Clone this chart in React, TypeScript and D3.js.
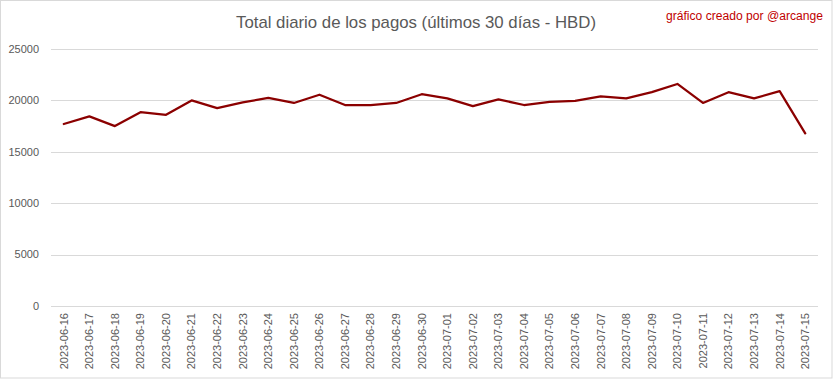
import React from "react";
import * as d3 from "d3";

const dates = [
  "2023-06-16","2023-06-17","2023-06-18","2023-06-19","2023-06-20","2023-06-21","2023-06-22","2023-06-23","2023-06-24","2023-06-25",
  "2023-06-26","2023-06-27","2023-06-28","2023-06-29","2023-06-30","2023-07-01","2023-07-02","2023-07-03","2023-07-04","2023-07-05",
  "2023-07-06","2023-07-07","2023-07-08","2023-07-09","2023-07-10","2023-07-11","2023-07-12","2023-07-13","2023-07-14","2023-07-15",
];
const values = [
  17700, 18450, 17500, 18850, 18600, 20000, 19250, 19800, 20250, 19750,
  20550, 19550, 19550, 19750, 20600, 20200, 19450, 20100, 19550, 19850,
  19950, 20400, 20200, 20800, 21600, 19750, 20800, 20200, 20900, 16800,
];
const yTicks = [0, 5000, 10000, 15000, 20000, 25000];
const title = "Total diario de los pagos (últimos 30 días - HBD)";
const credit = "gráfico creado por @arcange";

const W = 833, H = 379;
const plot = { left: 51, right: 818, top: 49, bottom: 306 };
const font = "'Liberation Sans', Arial, sans-serif";

export default function App() {
  const x = d3.scaleBand<string>().domain(dates).range([plot.left, plot.right]);
  const y = d3.scaleLinear().domain([0, 25000]).range([plot.bottom, plot.top]);
  const line = d3.line<number>()
    .x((_, i) => (x(dates[i]) as number) + x.bandwidth() / 2)
    .y((v) => y(v));

  return (
    <svg width={W} height={H} style={{ position: "absolute", left: 0, top: 0, background: "#fff" }} fontFamily={font}>
      <rect x={0.5} y={0.5} width={W - 1.5} height={H - 1.5} fill="#fff" stroke="#d9d9d9" />
      <text x={416} y={28} textAnchor="middle" fontSize={17} fill="#595959" textLength={360} lengthAdjust="spacingAndGlyphs">{title}</text>
      <text x={823} y={20} textAnchor="end" fontSize={12} fill="#c00000" textLength={157} lengthAdjust="spacingAndGlyphs">{credit}</text>
      {yTicks.map((t) => (
        <g key={t}>
          <line x1={plot.left} x2={plot.right} y1={Math.round(y(t)) + 0.5} y2={Math.round(y(t)) + 0.5} stroke="#d9d9d9" strokeWidth={1} />
          <text x={39} y={y(t)} dy="0.35em" textAnchor="end" fontSize={11} fill="#595959">{t}</text>
        </g>
      ))}
      {dates.map((d) => {
        const cx = (x(d) as number) + x.bandwidth() / 2;
        return (
          <text key={d} transform={`translate(${cx},313) rotate(-90)`} dy="0.35em" textAnchor="end" fontSize={11} fill="#595959">{d}</text>
        );
      })}
      <path d={line(values) || ""} fill="none" stroke="#8b0000" strokeWidth={2.25} strokeLinejoin="round" strokeLinecap="round" />
    </svg>
  );
}
